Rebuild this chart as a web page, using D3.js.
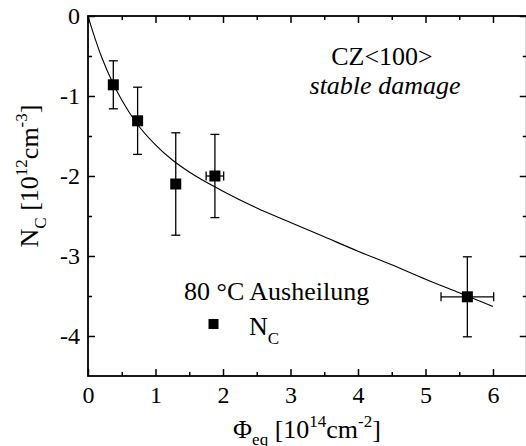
<!DOCTYPE html>
<html>
<head>
<meta charset="utf-8">
<script src="https://cdn.jsdelivr.net/npm/d3@7"></script>
<style>
  body { margin: 0; background: #fff; }
  svg, svg text { font-family: "Liberation Serif", "Times New Roman", serif; }
</style>
</head>
<body>
<div id="chart"></div>
<script>
// measured points: fluence [10^14 cm^-2] and N_C [10^12 cm^-3]
var phi = [0.375, 0.735, 1.30, 1.88, 5.62];
var phiErr = [0, 0, 0, 0.13, 0.39];
var nc = [-0.86, -1.31, -2.10, -2.00, -3.51];
var ncErr = [0.30, 0.42, 0.64, 0.52, 0.50];

// fit line
var fitX = [0, 0.05, 0.1, 0.2, 0.375, 0.5, 0.72, 1.0, 1.25, 1.5, 2.0, 2.5, 3.0, 3.5, 4.0, 4.5, 5.0, 5.5, 6.0];
var fitY = [0, -0.14, -0.27, -0.51, -0.85, -1.05, -1.34, -1.61, -1.80, -1.95, -2.19, -2.40, -2.58, -2.76, -2.94, -3.11, -3.29, -3.46, -3.63];

var xTicks = [0, 1, 2, 3, 4, 5, 6];
var yTicks = [0, -1, -2, -3, -4];

var W = 526, H = 446;
var xMax = 6.5, yMin = -4.5;
var serif = "'Liberation Serif', 'Times New Roman', serif";

var svg = d3.select("#chart")
    .append("svg")
    .attr("width", W)
    .attr("height", H)
    .attr("font-family", serif);

var x = d3.scaleLinear().domain([0, xMax]).range([88, 88 + 6.5 * 67.5]);
var y = d3.scaleLinear().domain([yMin, 0]).range([376, 16]);

var minorX = d3.range(0.5, xMax, 1);
var minorY = d3.range(-0.5, yMin, -1);

// axes: major ticks with labels, minor ticks without, all pointing inward
function styleAxis(g) {
    g.attr("font-family", serif).attr("font-size", 24);
    g.select(".domain").remove();
    g.selectAll("line").attr("stroke", "#000").attr("stroke-width", 1.5);
    g.selectAll("text").attr("fill", "#000");
}

svg.append("g")
    .attr("transform", "translate(0," + y(yMin) + ")")
    .call(d3.axisBottom(x).tickValues(xTicks).tickSize(-7).tickPadding(10).tickFormat(d => String(d)))
    .call(styleAxis);
svg.append("g")
    .attr("transform", "translate(0," + y(yMin) + ")")
    .call(d3.axisBottom(x).tickValues(minorX).tickSize(-4).tickFormat(""))
    .call(styleAxis);
svg.append("g")
    .attr("transform", "translate(0," + y(0) + ")")
    .call(d3.axisTop(x).tickValues(xTicks).tickSize(-7).tickFormat(""))
    .call(styleAxis);
svg.append("g")
    .attr("transform", "translate(0," + y(0) + ")")
    .call(d3.axisTop(x).tickValues(minorX).tickSize(-4).tickFormat(""))
    .call(styleAxis);

svg.append("g")
    .attr("transform", "translate(" + x(0) + ",0)")
    .call(d3.axisLeft(y).tickValues(yTicks).tickSize(-7).tickPadding(8).tickFormat(d => String(d)))
    .call(styleAxis);
svg.append("g")
    .attr("transform", "translate(" + x(0) + ",0)")
    .call(d3.axisLeft(y).tickValues(minorY).tickSize(-4).tickFormat(""))
    .call(styleAxis);
svg.append("g")
    .attr("transform", "translate(" + x(xMax) + ",0)")
    .call(d3.axisRight(y).tickValues(yTicks).tickSize(-7).tickFormat(""))
    .call(styleAxis);
svg.append("g")
    .attr("transform", "translate(" + x(xMax) + ",0)")
    .call(d3.axisRight(y).tickValues(minorY).tickSize(-4).tickFormat(""))
    .call(styleAxis);

// frame
svg.append("rect")
    .attr("x", x(0))
    .attr("y", y(0))
    .attr("width", x(xMax) - x(0))
    .attr("height", y(yMin) - y(0))
    .attr("fill", "none")
    .attr("stroke", "#000")
    .attr("stroke-width", 1.8);

// fit curve
var line = d3.line()
    .x(function (d, i) { return x(fitX[i]); })
    .y(function (d) { return y(d); })
    .curve(d3.curveMonotoneX);
svg.append("path")
    .datum(fitY)
    .attr("d", line)
    .attr("fill", "none")
    .attr("stroke", "#000")
    .attr("stroke-width", 1.1);

// error bars
var cap = 4.5;
var pts = phi.map(function (p, i) { return { x: p, y: nc[i], ex: phiErr[i], ey: ncErr[i] }; });
var eb = svg.append("g").attr("stroke", "#000").attr("stroke-width", 1.3);
pts.forEach(function (d) {
    var cx = x(d.x), y1 = y(d.y + d.ey), y2 = y(d.y - d.ey);
    eb.append("line").attr("x1", cx).attr("x2", cx).attr("y1", y1).attr("y2", y2);
    eb.append("line").attr("x1", cx - cap).attr("x2", cx + cap).attr("y1", y1).attr("y2", y1);
    eb.append("line").attr("x1", cx - cap).attr("x2", cx + cap).attr("y1", y2).attr("y2", y2);
    if (d.ex > 0) {
        var cy = y(d.y), x1 = x(d.x - d.ex), x2 = x(d.x + d.ex);
        eb.append("line").attr("x1", x1).attr("x2", x2).attr("y1", cy).attr("y2", cy);
        eb.append("line").attr("x1", x1).attr("x2", x1).attr("y1", cy - cap).attr("y2", cy + cap);
        eb.append("line").attr("x1", x2).attr("x2", x2).attr("y1", cy - cap).attr("y2", cy + cap);
    }
});

// markers
var ms = 11;
svg.selectAll("rect.pt")
    .data(pts)
    .enter()
    .append("rect")
    .attr("class", "pt")
    .attr("x", function (d) { return x(d.x) - ms / 2; })
    .attr("y", function (d) { return y(d.y) - ms / 2; })
    .attr("width", ms)
    .attr("height", ms)
    .attr("fill", "#000");

// annotations
svg.append("text")
    .attr("x", 382)
    .attr("y", 65)
    .attr("text-anchor", "middle")
    .attr("font-size", 26)
    .text("CZ<100>");
svg.append("text")
    .attr("x", 385)
    .attr("y", 94)
    .attr("text-anchor", "middle")
    .attr("font-size", 26)
    .attr("font-style", "italic")
    .text("stable damage");

svg.append("text")
    .attr("x", 184)
    .attr("y", 300)
    .attr("font-size", 26)
    .text("80 °C Ausheilung");
svg.append("rect")
    .attr("x", 208.5)
    .attr("y", 319)
    .attr("width", 10)
    .attr("height", 10)
    .attr("fill", "#000");
var leg = svg.append("text")
    .attr("x", 249)
    .attr("y", 335)
    .attr("font-size", 26);
leg.append("tspan").text("N");
leg.append("tspan").attr("dy", 9).attr("font-size", 17).text("C");

// x label
var xl = svg.append("text")
    .attr("x", 307)
    .attr("y", 438)
    .attr("text-anchor", "middle")
    .attr("font-size", 26);
xl.append("tspan").text("Φ");
xl.append("tspan").attr("dy", 7).attr("font-size", 17).text("eq");
xl.append("tspan").attr("dy", -7).text(" [10");
xl.append("tspan").attr("dy", -11).attr("font-size", 17).text("14");
xl.append("tspan").attr("dy", 11).text("cm");
xl.append("tspan").attr("dy", -11).attr("font-size", 17).text("-2");
xl.append("tspan").attr("dy", 11).text("]");

// y label
var yl = svg.append("text")
    .attr("transform", "translate(38,176) rotate(-90)")
    .attr("text-anchor", "middle")
    .attr("font-size", 26);
yl.append("tspan").text("N");
yl.append("tspan").attr("dy", 8).attr("font-size", 17).text("C");
yl.append("tspan").attr("dy", -8).text(" [10");
yl.append("tspan").attr("dy", -11).attr("font-size", 17).text("12");
yl.append("tspan").attr("dy", 11).text("cm");
yl.append("tspan").attr("dy", -11).attr("font-size", 17).text("-3");
yl.append("tspan").attr("dy", 11).text("]");
</script>
</body>
</html>
